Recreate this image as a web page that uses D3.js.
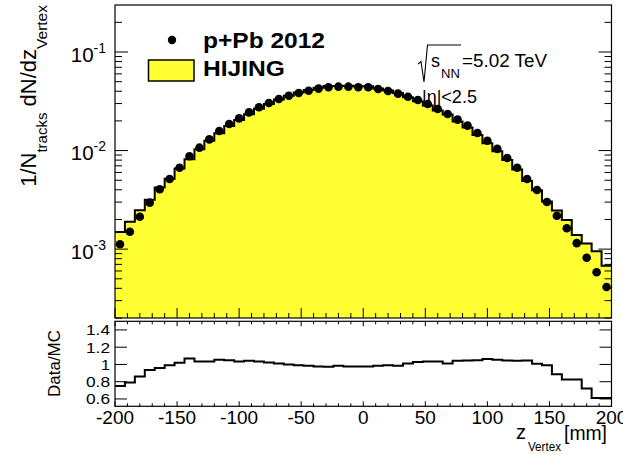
<!DOCTYPE html>
<html><head><meta charset="utf-8">
<script src="https://cdn.jsdelivr.net/npm/d3@7"></script>
<style>
body{margin:0;background:#fff;}
svg{display:block;}
text{font-family:"Liberation Sans",Arial,Helvetica,sans-serif;fill:#000;}
</style>
</head><body><svg id="c" width="623" height="455"></svg>
<script>
// ---------------- data ----------------
const zCenters = [-196,-188,-180,-172,-164,-156,-148,-140,-132,-124,-116,-108,-100,-92,-84,-76,-68,-60,-52,-44,-36,-28,-20,-12,-4,
                  4,12,20,28,36,44,52,60,68,76,84,92,100,108,116,124,132,140,148,156,164,172,180,188,196];
const dataValues = [1.12e-3,1.50e-3,2.13e-3,2.96e-3,4.05e-3,5.14e-3,6.70e-3,8.75e-3,1.07e-2,1.30e-2,
                    1.58e-2,1.86e-2,2.12e-2,2.44e-2,2.75e-2,3.04e-2,3.34e-2,3.60e-2,3.84e-2,4.05e-2,
                    4.25e-2,4.39e-2,4.45e-2,4.45e-2,4.39e-2,4.39e-2,4.21e-2,4.02e-2,3.78e-2,3.52e-2,
                    3.26e-2,2.97e-2,2.64e-2,2.35e-2,2.06e-2,1.79e-2,1.51e-2,1.26e-2,1.04e-2,8.41e-3,
                    6.70e-3,5.14e-3,3.98e-3,3.01e-3,2.18e-3,1.63e-3,1.15e-3,8.18e-4,5.82e-4,4.13e-4];
const mcValues = [1.49e-3,1.90e-3,2.48e-3,3.17e-3,4.22e-3,5.19e-3,6.57e-3,8.18e-3,1.034e-2,1.256e-2,
                  1.499e-2,1.771e-2,2.048e-2,2.339e-2,2.657e-2,2.972e-2,3.300e-2,3.600e-2,3.879e-2,4.112e-2,
                  4.350e-2,4.512e-2,4.518e-2,4.555e-2,4.493e-2,4.493e-2,4.274e-2,4.061e-2,3.838e-2,3.478e-2,
                  3.174e-2,2.870e-2,2.551e-2,2.322e-2,1.975e-2,1.711e-2,1.438e-2,1.186e-2,9.87e-3,8.04e-3,
                  6.42e-3,4.91e-3,3.95e-3,3.04e-3,2.46e-3,1.97e-3,1.39e-3,1.14e-3,9.54e-4,6.77e-4];
const ratioValues = [0.75,0.79,0.86,0.935,0.96,0.99,1.02,1.07,1.035,1.035,
                     1.054,1.05,1.035,1.043,1.035,1.023,1.012,1.0,0.99,0.985,
                     0.977,0.973,0.985,0.977,0.977,0.977,0.985,0.99,0.985,1.012,
                     1.027,1.035,1.035,1.012,1.043,1.046,1.05,1.062,1.054,1.046,
                     1.043,1.046,1.008,0.99,0.885,0.827,0.825,0.72,0.61,0.61];
const binWidth = 8;
const xTickLabels = [-200,-150,-100,-50,0,50,100,150,200];
const yDecadeExponents = [-1,-2,-3];
const ratioTickLabels = [0.6,0.8,1,1.2,1.4];
const legendLabels = ["p+Pb 2012","HIJING"];

// ---------------- layout ----------------
const L = 115, R = 611.5, mainT = 5, mainB = 318, ratT = 321.3, ratB = 406.3;
const YELLOW = "#ffff33";
const svg = d3.select("#c");
const x = d3.scaleLinear().domain([-200,200]).range([L,R]);
const y = d3.scaleLog().domain([2e-4,0.3]).range([mainB,mainT]);
const yr = d3.scaleLinear().domain([0.515,1.5]).range([ratB,ratT]);

function stepPoints(vals){
  const pts=[];
  zCenters.forEach((z,i)=>{pts.push([z-binWidth/2,vals[i]]);pts.push([z+binWidth/2,vals[i]]);});
  return pts;
}

// ---------------- main panel ----------------
const mcPts = stepPoints(mcValues);
svg.append("path")
  .attr("d", d3.area().x(d=>x(d[0])).y0(mainB).y1(d=>y(d[1]))(mcPts))
  .attr("fill", YELLOW).attr("stroke","none");
svg.append("path")
  .attr("d", d3.line().x(d=>x(d[0])).y(d=>y(d[1]))(mcPts))
  .attr("fill","none").attr("stroke","#000").attr("stroke-width",2);

const tk = svg.append("g").attr("stroke","#000").attr("stroke-width",1);
for(let e=-4;e<=-1;e++){
  for(let m=1;m<=9;m++){
    const v=m*Math.pow(10,e);
    if(v<2e-4||v>0.3) continue;
    const len = m===1?13:7;
    const yy=y(v);
    tk.append("line").attr("x1",L).attr("x2",L+len).attr("y1",yy).attr("y2",yy);
    tk.append("line").attr("x1",R).attr("x2",R-len).attr("y1",yy).attr("y2",yy);
  }
}
for(let z=-200;z<=200;z+=10){
  const len = (z%50===0)?10:5;
  tk.append("line").attr("x1",x(z)).attr("x2",x(z)).attr("y1",mainB).attr("y2",mainB-len);
}
svg.append("rect").attr("x",L).attr("y",mainT).attr("width",R-L).attr("height",mainB-mainT)
  .attr("fill","none").attr("stroke","#000").attr("stroke-width",1.2);

yDecadeExponents.forEach(e=>{
  const t = svg.append("text").attr("x",106).attr("y",y(Math.pow(10,e))+9.5)
    .attr("text-anchor","end").attr("font-size",20.5);
  t.append("tspan").text("10");
  t.append("tspan").attr("font-size",14).attr("dy",-9).text(String(e));
});

svg.append("g").selectAll("circle").data(dataValues).join("circle")
  .attr("cx",(d,i)=>x(zCenters[i])).attr("cy",d=>y(d)).attr("r",4.3).attr("fill","#000");

// legend
svg.append("circle").attr("cx",172).attr("cy",40).attr("r",4.2).attr("fill","#000");
svg.append("text").attr("x",203).attr("y",47.5).attr("font-size",22.5).attr("font-weight","bold")
  .attr("textLength",122).attr("lengthAdjust","spacingAndGlyphs").text(legendLabels[0]);
svg.append("rect").attr("x",148.5).attr("y",60).attr("width",45.5).attr("height",21)
  .attr("fill",YELLOW).attr("stroke","#000").attr("stroke-width",1.5);
svg.append("text").attr("x",203).attr("y",75.5).attr("font-size",22.5).attr("font-weight","bold")
  .attr("textLength",82).attr("lengthAdjust","spacingAndGlyphs").text(legendLabels[1]);

// energy label
svg.append("path").attr("d","M418,64 L421,61.5 L424,82 L427.5,45 L461,45")
  .attr("fill","none").attr("stroke","#000").attr("stroke-width",1.1);
svg.append("text").attr("x",431).attr("y",67).attr("font-size",18).text("s");
svg.append("text").attr("x",441).attr("y",78).attr("font-size",13).text("NN");
svg.append("text").attr("x",462).attr("y",67).attr("font-size",18)
  .attr("textLength",85).attr("lengthAdjust","spacingAndGlyphs").text("=5.02 TeV");
svg.append("text").attr("x",422).attr("y",103).attr("font-size",18).text("|\u03b7|<2.5");

// y-axis title
{
  const t = svg.append("text").attr("transform","translate(36,5) rotate(-90)").attr("text-anchor","end");
  t.append("tspan").attr("font-size",22).text("1/N");
  t.append("tspan").attr("font-size",15).attr("dy",11).text("tracks");
  t.append("tspan").attr("font-size",22).attr("dy",-11).text(" dN/dz");
  t.append("tspan").attr("font-size",15.5).attr("dy",11).text("Vertex");
}

// ---------------- ratio panel ----------------
const rPts = stepPoints(ratioValues);
svg.append("path")
  .attr("d", d3.line().x(d=>x(d[0])).y(d=>yr(d[1]))(rPts))
  .attr("fill","none").attr("stroke","#000").attr("stroke-width",2);
const tr = svg.append("g").attr("stroke","#000").attr("stroke-width",1);
ratioTickLabels.forEach(v=>{
  tr.append("line").attr("x1",L).attr("x2",L+12).attr("y1",yr(v)).attr("y2",yr(v));
  tr.append("line").attr("x1",R).attr("x2",R-12).attr("y1",yr(v)).attr("y2",yr(v));
  svg.append("text").attr("x",110).attr("y",yr(v)+5.5).attr("text-anchor","end")
    .attr("font-size",15.5).attr("textLength",String(v).length>1?24:9).attr("lengthAdjust","spacingAndGlyphs")
    .text(String(v));
});
for(let z=-200;z<=200;z+=10){
  const len = (z%50===0)?5:3;
  tr.append("line").attr("x1",x(z)).attr("x2",x(z)).attr("y1",ratB).attr("y2",ratB-len);
  tr.append("line").attr("x1",x(z)).attr("x2",x(z)).attr("y1",ratT).attr("y2",ratT+len);
}
svg.append("rect").attr("x",L).attr("y",ratT).attr("width",R-L).attr("height",ratB-ratT)
  .attr("fill","none").attr("stroke","#000").attr("stroke-width",1.2);
xTickLabels.forEach(v=>{
  svg.append("text").attr("x",x(v)).attr("y",423.5).attr("text-anchor","middle")
    .attr("font-size",19).text(String(v));
});
svg.append("text").attr("transform","translate(60,363.5) rotate(-90)").attr("text-anchor","middle")
  .attr("font-size",17).text("Data/MC");

// x-axis title
svg.append("text").attr("x",516).attr("y",439).attr("font-size",20).text("z");
svg.append("text").attr("x",528).attr("y",450.5).attr("font-size",13)
  .attr("textLength",33).attr("lengthAdjust","spacingAndGlyphs").text("Vertex");
svg.append("text").attr("x",564).attr("y",440).attr("font-size",19.5)
  .attr("textLength",43).attr("lengthAdjust","spacingAndGlyphs").text("[mm]");
</script>
</body></html>
